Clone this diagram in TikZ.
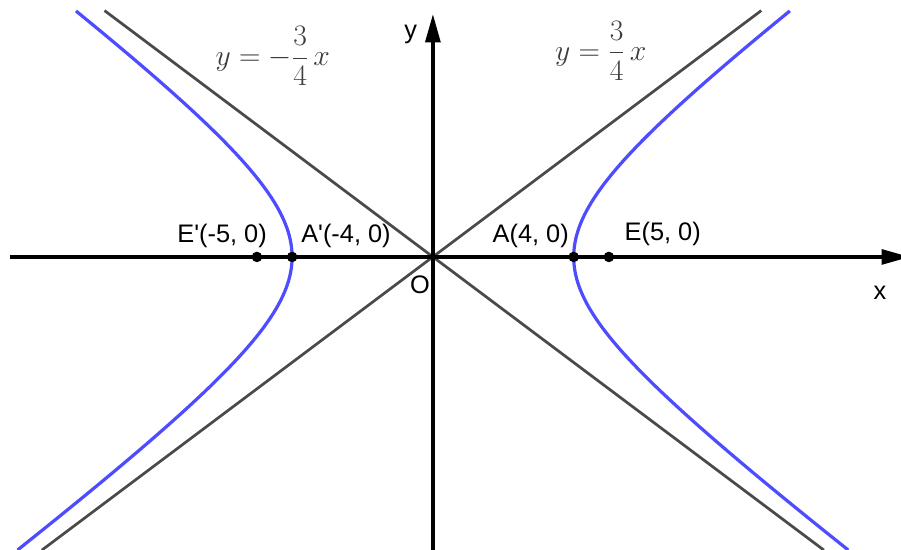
\documentclass[tikz,border=0pt]{standalone}
\usepackage{fix-cm}
\usepackage{fontspec}
\setmainfont{Liberation Sans}
\usetikzlibrary{arrows.meta,positioning}
\definecolor{ink}{HTML}{000000}
\definecolor{asy}{HTML}{4A4A4A}
\definecolor{hyb}{HTML}{4D4DFF}
\definecolor{eqn}{HTML}{3C3C3C}
\tikzset{
  axis/.style={line width=2.8pt,ink,-{Triangle[length=0.8cm,width=0.42cm]}},
  asym/.style={line width=2.2pt,asy},
  hypb/.style={line width=2.6pt,hyb},
  dot/.style={circle,fill=ink,inner sep=0pt,minimum size=0.30cm},
  lab/.style={font=\fontsize{20.5}{24}\selectfont,text=ink,inner sep=1pt},
  eq/.style={font=\fontsize{24}{29}\selectfont,text=eqn,inner sep=1pt}
}
\newcommand{\fr}[2]{\frac{#1\mathstrut}{#2\mathstrut}}

\begin{document}
\begin{tikzpicture}[x=1cm,y=1cm]
% ================= frame =================
\clip (-12.30,-8.324) rectangle (13.30,7.301);
\fill[white] (-12.30,-8.324) rectangle (13.30,7.301);
% ================= asymptotes =================
\coordinate (pl) at (-11.11,-8.33); \coordinate (pr) at (9.33,7);
\coordinate (ml) at (-9.33,7);      \coordinate (mr) at (11.11,-8.33);
\draw[asym] (pl) -- (pr);
\draw[asym] (ml) -- (mr);
% ================= hyperbola x^2/16 - y^2/9 = 1 =================
\draw[hypb] plot[domain=-1.745:1.5835,samples=90,variable=\t] ({4*cosh(\t)},{3*sinh(\t)});
\draw[hypb] plot[domain=-1.745:1.5835,samples=90,variable=\t] ({-4*cosh(\t)},{3*sinh(\t)});
% ================= axes =================
\coordinate (xl) at (-12.02,0); \coordinate (xr) at (13.55,0);
\coordinate (yb) at (0,-8.45);  \coordinate (yt) at (0,6.90);
\draw[axis] (xl) -- (xr);
\draw[axis] (yb) -- (yt);
\node[lab] (xlab) at (12.70,-1.02) {x};
\node[lab] (ylab) at (-0.63,6.31) {y};
\node[lab] (olab) at (-0.37,-0.80) {O};
% ================= points =================
\node[dot] (Ep) at (-5,0) {};
\node[dot] (Ap) at (-4,0) {};
\node[dot] (A) at (4,0) {};
\node[dot] (E) at (5,0) {};
\node[lab] (Eplab) at (-5.99,0.60) {E\textquotesingle(-5, 0)};
\node[lab] (Aplab) at (-2.47,0.60) {A\textquotesingle(-4, 0)};
\node[lab] (Alab) at (2.78,0.60) {A(4, 0)};
\node[lab] (Elab) at (6.53,0.65) {E(5, 0)};
% ================= equations =================
\node[eq] (eqm) at (-4.55,5.65) {$\displaystyle y=-\fr{3}{4}\,x$};
\node[eq] (eqp) at (4.77,5.80) {$\displaystyle y=\fr{3}{4}\,x$};
\end{tikzpicture}
\end{document}
